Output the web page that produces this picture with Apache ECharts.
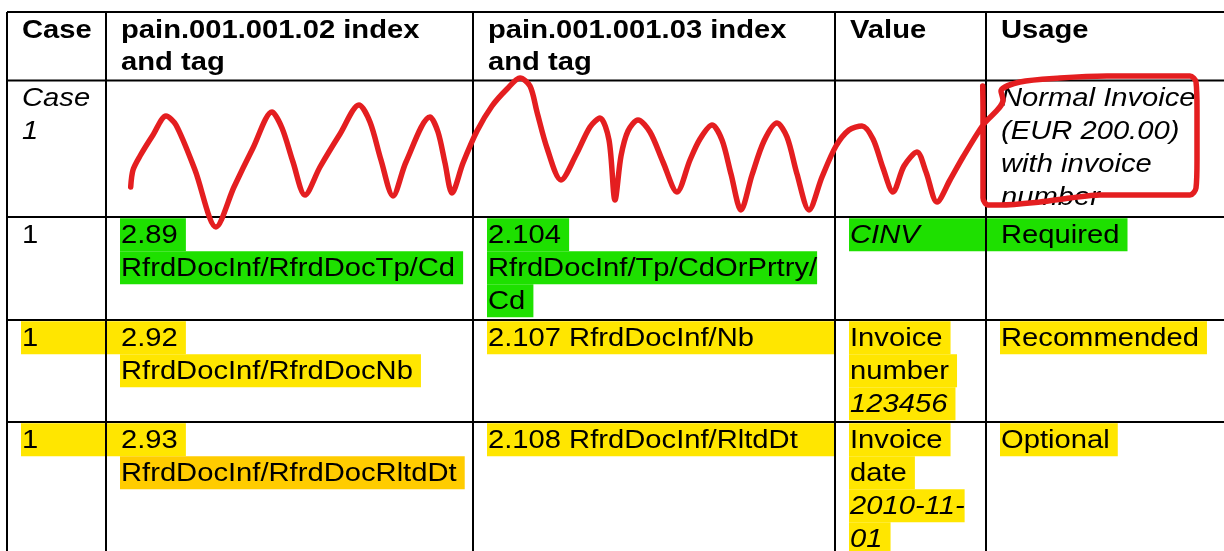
<!DOCTYPE html>
<html><head><meta charset="utf-8">
<script src="https://cdn.jsdelivr.net/npm/echarts@6/dist/echarts.min.js"></script>
<style>html,body{margin:0;padding:0;background:#fff}#c{width:1224px;height:551px}</style>
</head><body><div id="c"></div>
<script>
// ---------- table content ----------
const headerRow = ["Case", "pain.001.001.02 index\nand tag", "pain.001.001.03 index\nand tag", "Value", "Usage"];
const caseCol  = ["Case\n1", "1", "1 ", "1 "];
const v02Col   = ["", "2.89 \nRfrdDocInf/RfrdDocTp/Cd ", "2.92 \nRfrdDocInf/RfrdDocNb ", "2.93 \nRfrdDocInf/RfrdDocRltdDt "];
const v03Col   = ["", "2.104 \nRfrdDocInf/Tp/CdOrPrtry/\nCd ", "2.107 RfrdDocInf/Nb", "2.108 RfrdDocInf/RltdDt"];
const valueCol = ["", "CINV", "Invoice \nnumber \n123456 ", "Invoice \ndate \n2010-11-\n01 "];
const usageCol = ["Normal Invoice\n(EUR 200.00)\nwith invoice\nnumber", "Required ", "Recommended ", "Optional "];

// ---------- red hand-drawn annotation stroke ----------
const scribble = [
  [130.7,187],[133,170],[140,156],[153,135],[166,116],[176,125],[195,170],[216,227],
  [234,187],[253,148],[272,112],[282,128],[293,162],[305,195],
  [320,167],[340,134],[359,105],[370,122],[381,160],[393,196],
  [406,162],[430,117],[438,132],[445,163],[452,193],
  [463,163],[477,131],[492,106],[507,89],[520,78],[530,86],[537,112],[547,148],[561,180],
  [576,155],[590,127],[600,118],[609,140],[615,200],
  [621,156],[628,131],[638,120],[650,132],[663,162],[677,192],
  [690,160],[700,139],[712,125],[722,140],[731,174],[741,210],
  [752,175],[764,141],[777,123],[787,137],[797,174],[809,210],
  [822,177],[836,146],[849,130],[862,126],[873,139],[883,168],[893,192],
  [904,166],[917,152],[926,172],[937,202],
  [950,180],[963,157],[983,125],[1003,100],[1001,91],
  [1020,82],[1060,78],[1107,76],[1170,76],[1190,76],[1196,82],
  [1197,110],[1197,160],[1196,188],[1190,195],
  [1150,195],[1100,195],[1070,198],[1040,202],[1000,205],[988,205],
  [983,198],[983,150],[983,110],[982.7,86]
];

// ---------- layout & style (not data) ----------
const colEdges = [7, 106, 473, 835, 986, 1224];
const rowEdges = [12, 80.5, 217, 320, 422, 551];
const textX = [22, 121, 488, 850, 1001];
const FONT_PX = 25.6, SCALE_X = 1.14, LINE_H = 33, HEAD_LINE_H = 32.3, BASE_OFF = 27.5;
const FAMILY = '"Liberation Sans", Arial, sans-serif';
const GREEN = '#1EE000', YEL = '#FFE600', ORG = '#FFCC00', RED = '#E41E20';
const cellStyles = {
  '1,0': {italic:[1,1]},
  '1,4': {italic:[1,1,1,1]},
  '2,1': {hl:[GREEN,GREEN]},
  '2,2': {hl:[GREEN,GREEN,GREEN]},
  '2,3': {hl:[GREEN], italic:[1], ext:['R']},
  '2,4': {hl:[GREEN], ext:['L']},
  '3,0': {hl:[YEL], ext:['R']},
  '3,1': {hl:[YEL,YEL], ext:['L','']},
  '3,2': {hl:[YEL], ext:['R']},
  '3,3': {hl:[YEL,YEL,YEL], italic:[0,0,1]},
  '3,4': {hl:[YEL]},
  '4,0': {hl:[YEL], ext:['R']},
  '4,1': {hl:[YEL,ORG], ext:['L','']},
  '4,2': {hl:[YEL], ext:['R']},
  '4,3': {hl:[YEL,YEL,YEL,YEL], italic:[0,0,1,1]},
  '4,4': {hl:[YEL]}
};

const tableRows = [headerRow];
for (let i = 0; i < caseCol.length; i++) tableRows.push([caseCol[i], v02Col[i], v03Col[i], valueCol[i], usageCol[i]]);
const cellData = [];
tableRows.forEach((row, r) => row.forEach((_, c) => cellData.push([c, r])));

const gridSegs = [];
rowEdges.slice(0, -1).forEach(y => gridSegs.push([colEdges[0], y, colEdges[colEdges.length-1], y]));
colEdges.slice(0, -1).forEach(x => gridSegs.push([x, rowEdges[0], x, rowEdges[rowEdges.length-1]]));

const mctx = document.createElement('canvas').getContext('2d');
function measure(font, s) { mctx.font = font; return mctx.measureText(s).width; }

function renderCell(params, api) {
  const c = api.value(0), r = api.value(1);
  const text = tableRows[r][c];
  if (!text) return null;
  const st = cellStyles[r + ',' + c] || {};
  const lh = r === 0 ? HEAD_LINE_H : LINE_H;
  const children = [];
  text.split('\n').forEach((ln, i) => {
    const base = rowEdges[r] + BASE_OFF + lh * i;
    const italic = st.italic && st.italic[i];
    const font = (italic ? 'italic ' : '') + (r === 0 ? 'bold ' : '') + FONT_PX + 'px ' + FAMILY;
    const hl = st.hl && st.hl[i];
    if (hl) {
      const w = measure(font, ln) * SCALE_X;
      const ext = (st.ext && st.ext[i]) || '';
      let x0 = textX[c] - 1, x1 = textX[c] + w;
      if (ext.indexOf('L') >= 0) x0 = colEdges[c];
      if (ext.indexOf('R') >= 0) x1 = colEdges[c + 1];
      const p0 = api.coord([x0, base - 26.3]), p1 = api.coord([x1, base + 6.7]);
      children.push({type: 'rect', shape: {x: p0[0], y: p0[1], width: p1[0] - p0[0], height: p1[1] - p0[1]}, style: {fill: hl}});
    }
    const p = api.coord([textX[c], base - 8.9]);
    children.push({type: 'text', x: p[0], y: p[1], scaleX: SCALE_X,
      style: {text: ln.replace(/\s+$/, ''), font: font, fill: '#000', align: 'left', verticalAlign: 'middle'}});
  });
  return {type: 'group', children: children};
}

function renderSeg(params, api) {
  const a = api.coord([api.value(0), api.value(1)]), b = api.coord([api.value(2), api.value(3)]);
  return {type: 'line', shape: {x1: a[0], y1: a[1], x2: b[0], y2: b[1]}, style: {stroke: '#000', lineWidth: 2}};
}

const chart = echarts.init(document.getElementById('c'), null, {renderer: 'canvas'});
chart.setOption({
  animation: false,
  backgroundColor: '#fff',
  grid: {left: 0, right: 0, top: 0, bottom: 0},
  xAxis: {type: 'value', min: 0, max: 1224, show: false},
  yAxis: {type: 'value', min: 0, max: 551, inverse: true, show: false},
  series: [
    {type: 'custom', name: 'cells', data: cellData, renderItem: renderCell, clip: false, z: 1, silent: true},
    {type: 'custom', name: 'rules', data: gridSegs, renderItem: renderSeg, clip: false, z: 2, silent: true},
    {type: 'line', name: 'annotation', data: scribble, smooth: 0.3, showSymbol: false, symbol: 'none', z: 5, silent: true,
      lineStyle: {color: RED, width: 5.5, cap: 'round', join: 'round'}}
  ]
});
</script></body></html>
